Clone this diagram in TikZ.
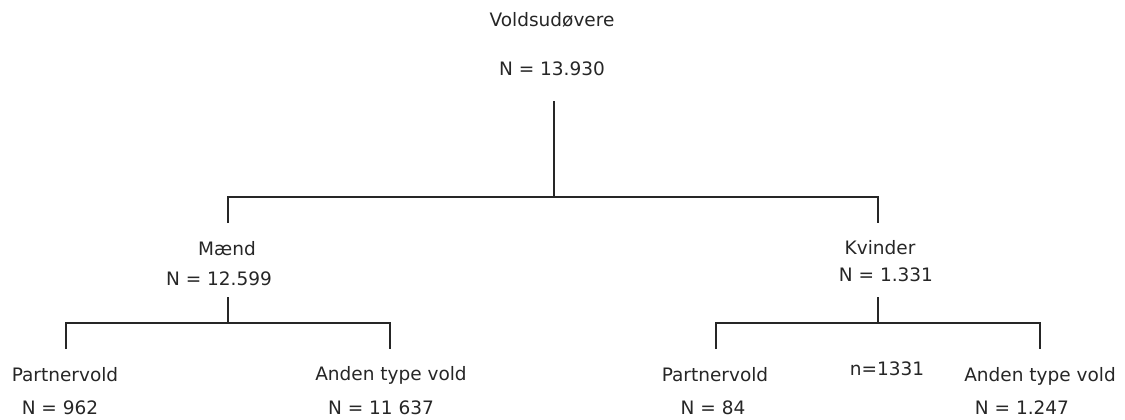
\documentclass[tikz,border=0pt]{standalone}
\usepackage{fontspec}
\setmainfont{DejaVu Sans}
\begin{document}
\begin{tikzpicture}[x=1pt,y=-1pt,
  lbl/.style={font=\fontsize{18.5}{22}\selectfont, anchor=base, inner sep=0pt, text=black!85},
  link/.style={line width=2pt, draw=black!85}]
\useasboundingbox (0,0) rectangle (1125,420);
% texts
\node[lbl] (rootT) at (552,27) {Voldsudøvere};
\node[lbl] (rootN) at (552,76) {N = 13.930};
\node[lbl] (maend) at (227,255) {Mænd};
\node[lbl] (maendN) at (219,285) {N = 12.599};
\node[lbl] (kv) at (880,254) {Kvinder};
\node[lbl] (kvN) at (886,281) {N = 1.331};
\node[lbl] (mpv) at (65,381) {Partnervold};
\node[lbl] (mpvN) at (60,414) {N = 962};
\node[lbl] (mav) at (391,380) {Anden type vold};
\node[lbl] (mavN) at (381,414) {N = 11 637};
\node[lbl] (kpv) at (715,381) {Partnervold};
\node[lbl] (kpvN) at (713,414) {N = 84};
\node[lbl] (kn) at (887,375) {n=1331};
\node[lbl] (kav) at (1040,381) {Anden type vold};
\node[lbl] (kavN) at (1022,414) {N = 1.247};
% junctions
\coordinate (r0) at (554,101);
\coordinate (r1) at (554,197);
\coordinate (mTop) at (228,197);
\coordinate (kTop) at (878,197);
\coordinate (mIn) at (228,223);
\coordinate (kIn) at (878,223);
\coordinate (mOut) at (228,297);
\coordinate (mJ) at (228,323);
\coordinate (kOut) at (878,297);
\coordinate (kJ) at (878,323);
\coordinate (mpvT) at (66,323);
\coordinate (mpvB) at (66,349);
\coordinate (mavT) at (390,323);
\coordinate (mavB) at (390,349);
\coordinate (kpvT) at (716,323);
\coordinate (kpvB) at (716,349);
\coordinate (kavT) at (1040,323);
\coordinate (kavB) at (1040,349);
% connectors
\draw[link] (r0) -- (r1);
\draw[link] (mIn) -- (mTop) -- (kTop) -- (kIn);
\draw[link] (mOut) -- (mJ);
\draw[link] (mpvB) -- (mpvT) -- (mavT) -- (mavB);
\draw[link] (kOut) -- (kJ);
\draw[link] (kpvB) -- (kpvT) -- (kavT) -- (kavB);
\end{tikzpicture}
\end{document}
